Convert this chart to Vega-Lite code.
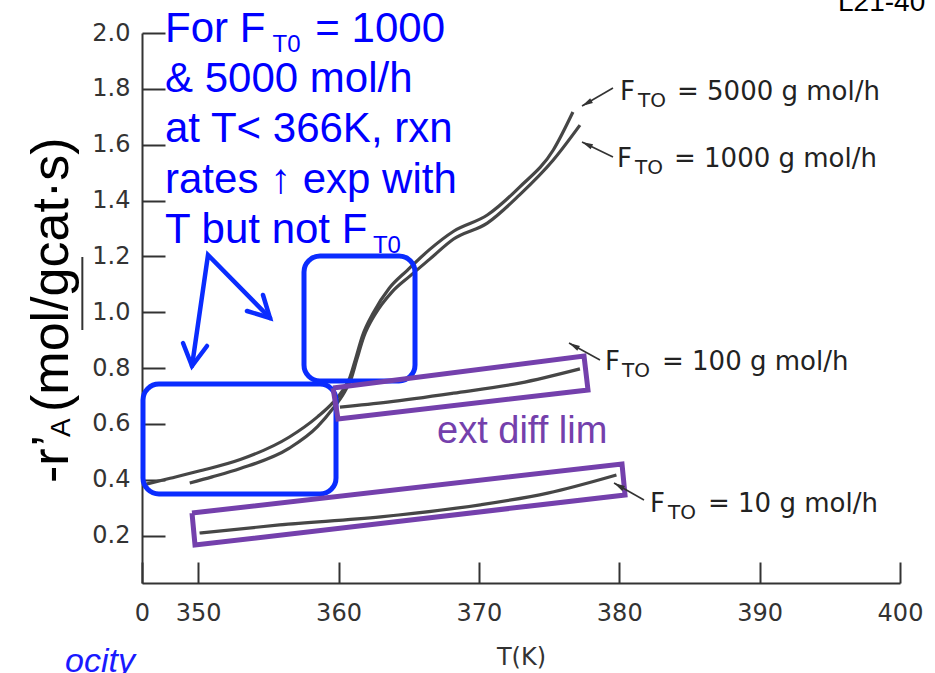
{
  "$schema": "https://vega.github.io/schema/vega-lite/v6.json",
  "width": 758,
  "height": 550,
  "autosize": {"type": "none"},
  "padding": {"left": 142, "top": 33, "right": 35, "bottom": 90},
  "background": "white",
  "config": {"view": {"stroke": null}, "font": "DejaVu Sans"},
  "datasets": {
    "curves": [
      {"s": "5000", "t": 346.2, "r": 0.383}, {"s": "5000", "t": 348.0, "r": 0.405}, {"s": "5000", "t": 350.0, "r": 0.43},
      {"s": "5000", "t": 353.0, "r": 0.472}, {"s": "5000", "t": 356.5, "r": 0.553}, {"s": "5000", "t": 358.5, "r": 0.625},
      {"s": "5000", "t": 359.6, "r": 0.676}, {"s": "5000", "t": 360.3, "r": 0.72}, {"s": "5000", "t": 360.8, "r": 0.765},
      {"s": "5000", "t": 361.2, "r": 0.83}, {"s": "5000", "t": 361.7, "r": 0.915}, {"s": "5000", "t": 362.5, "r": 1.0},
      {"s": "5000", "t": 363.6, "r": 1.085}, {"s": "5000", "t": 364.9, "r": 1.15}, {"s": "5000", "t": 366.5, "r": 1.225},
      {"s": "5000", "t": 368.2, "r": 1.29}, {"s": "5000", "t": 370.6, "r": 1.348}, {"s": "5000", "t": 372.9, "r": 1.448},
      {"s": "5000", "t": 375.3, "r": 1.581}, {"s": "5000", "t": 376.7, "r": 1.717},
      {"s": "1000", "t": 349.4, "r": 0.388}, {"s": "1000", "t": 351.0, "r": 0.41}, {"s": "1000", "t": 353.0, "r": 0.44},
      {"s": "1000", "t": 356.5, "r": 0.513}, {"s": "1000", "t": 358.5, "r": 0.59}, {"s": "1000", "t": 359.6, "r": 0.655},
      {"s": "1000", "t": 360.4, "r": 0.712}, {"s": "1000", "t": 360.9, "r": 0.762}, {"s": "1000", "t": 361.3, "r": 0.83},
      {"s": "1000", "t": 361.8, "r": 0.912}, {"s": "1000", "t": 362.6, "r": 0.992}, {"s": "1000", "t": 363.8, "r": 1.072},
      {"s": "1000", "t": 365.1, "r": 1.13}, {"s": "1000", "t": 366.5, "r": 1.19}, {"s": "1000", "t": 368.2, "r": 1.262},
      {"s": "1000", "t": 370.6, "r": 1.319}, {"s": "1000", "t": 372.9, "r": 1.42}, {"s": "1000", "t": 375.3, "r": 1.545},
      {"s": "1000", "t": 377.2, "r": 1.67},
      {"s": "100", "t": 360.1, "r": 0.66}, {"s": "100", "t": 363.5, "r": 0.678}, {"s": "100", "t": 368.2, "r": 0.71},
      {"s": "100", "t": 372.9, "r": 0.746}, {"s": "100", "t": 377.2, "r": 0.797},
      {"s": "10", "t": 350.1, "r": 0.209}, {"s": "10", "t": 355.8, "r": 0.238}, {"s": "10", "t": 363.0, "r": 0.267},
      {"s": "10", "t": 370.1, "r": 0.31}, {"s": "10", "t": 374.9, "r": 0.352}, {"s": "10", "t": 379.8, "r": 0.417}
    ],
    "blueBoxes": [
      {"t": 346.071, "r": 0.7428, "t2": 359.821, "r2": 0.3488},
      {"t": 357.541, "r": 1.2013, "t2": 365.449, "r2": 0.7535}
    ],
    "purpleBoxes": [
      {"g": "100", "i": 0, "t": 359.607, "r": 0.7285}, {"g": "100", "i": 1, "t": 377.489, "r": 0.8431},
      {"g": "100", "i": 2, "t": 377.773, "r": 0.7213}, {"g": "100", "i": 3, "t": 359.963, "r": 0.6174},
      {"g": "100", "i": 4, "t": 359.607, "r": 0.7285},
      {"g": "10", "i": 0, "t": 349.562, "r": 0.2808}, {"g": "10", "i": 1, "t": 380.196, "r": 0.4563},
      {"g": "10", "i": 2, "t": 380.41, "r": 0.3452}, {"g": "10", "i": 3, "t": 349.776, "r": 0.1661},
      {"g": "10", "i": 4, "t": 349.562, "r": 0.2808}
    ],
    "blueArrows": [
      {"g": "shaft", "i": 0, "t": 349.562, "r": 0.8073}, {"g": "shaft", "i": 1, "t": 350.702, "r": 1.2049},
      {"g": "shaft", "i": 2, "t": 355.119, "r": 0.9792},
      {"g": "headL", "i": 0, "t": 348.921, "r": 0.8897}, {"g": "headL", "i": 1, "t": 349.562, "r": 0.8073},
      {"g": "headL", "i": 2, "t": 350.631, "r": 0.8789},
      {"g": "headR", "i": 0, "t": 353.48, "r": 1.0043}, {"g": "headR", "i": 1, "t": 355.119, "r": 0.9792},
      {"g": "headR", "i": 2, "t": 354.62, "r": 1.0616}
    ],
    "pointers": [
      {"k": "5000", "t": 379.554, "r": 1.803, "t2": 377.346, "r2": 1.7385},
      {"k": "1000", "t": 379.554, "r": 1.5559, "t2": 377.346, "r2": 1.6096},
      {"k": "100", "t": 378.628, "r": 0.8288, "t2": 376.419, "r2": 0.8897},
      {"k": "10", "t": 381.763, "r": 0.3273, "t2": 379.626, "r2": 0.3882}
    ],
    "blueMain": [
      {"t": 347.639, "r": 1.9678, "label": "For F"},
      {"t": 358.35, "r": 1.9678, "label": "= 1000"},
      {"t": 347.639, "r": 1.7887, "label": "& 5000 mol/h"},
      {"t": 347.639, "r": 1.6096, "label": "at T< 366K, rxn"},
      {"t": 347.639, "r": 1.4269, "label": "rates ↑ exp with"},
      {"t": 347.639, "r": 1.2478, "label": "T but not F"}
    ],
    "blueSub": [
      {"t": 355.3, "r": 1.9319, "label": "T0"},
      {"t": 362.45, "r": 1.212, "label": "T0"}
    ],
    "blackMain": [
      {"t": 380.053, "r": 1.76, "label": "F"}, {"t": 384.114, "r": 1.76, "label": "= 5000 g mol/h"},
      {"t": 379.839, "r": 1.52, "label": "F"}, {"t": 383.9, "r": 1.52, "label": "= 1000 g mol/h"},
      {"t": 378.984, "r": 0.793, "label": "F"}, {"t": 383.045, "r": 0.793, "label": "= 100 g mol/h"},
      {"t": 382.19, "r": 0.2843, "label": "F"}, {"t": 386.322, "r": 0.2843, "label": "= 10 g mol/h"}
    ],
    "blackSub": [
      {"t": 381.336, "r": 1.735, "label": "TO"}, {"t": 381.122, "r": 1.495, "label": "TO"},
      {"t": 380.195, "r": 0.7679, "label": "TO"}, {"t": 383.473, "r": 0.2593, "label": "TO"}
    ],
    "yTitleMain": [
      {"t": 340.728, "r": 0.3882, "label": "-r’"},
      {"t": 340.728, "r": 0.6425, "label": "(mol/gcat·s)"}
    ],
    "yTitleSub": [{"t": 340.871, "r": 0.553, "label": "A"}]
  },
  "encoding": {
    "x": {
      "field": "t", "type": "quantitative",
      "scale": {"domain": [346, 400], "nice": false, "zero": false},
      "axis": {
        "values": [346, 350, 360, 370, 380, 390, 400],
        "labelExpr": "datum.value == 346 ? '0' : datum.label",
        "ticks": true, "tickSize": -21, "tickWidth": 2, "tickColor": "#333333",
        "grid": false, "labelFlush": false, "labelOverlap": false,
        "domainColor": "#333333", "domainWidth": 2,
        "labelFont": "DejaVu Sans", "labelFontSize": 24, "labelColor": "#333333", "labelPadding": 39,
        "title": "T(K)", "titleFont": "DejaVu Sans", "titleFontSize": 24, "titleFontWeight": "normal",
        "titleColor": "#333333", "titlePadding": 20
      }
    },
    "y": {
      "field": "r", "type": "quantitative",
      "scale": {"domain": [0.03, 2.0], "nice": false, "zero": false},
      "axis": {
        "values": [0.2, 0.4, 0.6, 0.8, 1.0, 1.2, 1.4, 1.6, 1.8, 2.0],
        "format": ".1f",
        "ticks": true, "tickSize": -23, "tickWidth": 2, "tickColor": "#333333",
        "grid": false, "labelFlush": false, "labelOverlap": false,
        "domainColor": "#333333", "domainWidth": 2,
        "labelFont": "DejaVu Sans", "labelFontSize": 24, "labelColor": "#333333", "labelPadding": 35,
        "title": null
      }
    }
  },
  "layer": [
    {
      "data": {"name": "curves"},
      "mark": {"type": "line", "color": "#464646", "strokeWidth": 3.2, "interpolate": "monotone"},
      "encoding": {"detail": {"field": "s"}}
    },
    {
      "data": {"name": "blueBoxes"},
      "mark": {"type": "rect", "fill": null, "fillOpacity": 0, "stroke": "#0a2cff", "strokeWidth": 5, "cornerRadius": 16},
      "encoding": {"x2": {"field": "t2"}, "y2": {"field": "r2"}}
    },
    {
      "data": {"name": "purpleBoxes"},
      "mark": {"type": "line", "color": "#7440ac", "strokeWidth": 5, "strokeJoin": "miter"},
      "encoding": {"detail": {"field": "g"}, "order": {"field": "i"}}
    },
    {
      "data": {"name": "blueArrows"},
      "mark": {"type": "line", "color": "#0a2cff", "strokeWidth": 4.5, "strokeJoin": "miter", "strokeCap": "round"},
      "encoding": {"detail": {"field": "g"}, "order": {"field": "i"}}
    },
    {
      "data": {"name": "pointers"},
      "mark": {"type": "rule", "color": "#333333", "strokeWidth": 1.6},
      "encoding": {"x2": {"field": "t2"}, "y2": {"field": "r2"}}
    },
    {
      "data": {"name": "pointers"},
      "transform": [{"filter": "datum.k == '5000'"}],
      "mark": {"type": "point", "shape": "M0,0L0.55,2.2L-0.55,2.2Z", "size": 100, "filled": true, "color": "#333333", "opacity": 1, "angle": 240},
      "encoding": {"x": {"field": "t2"}, "y": {"field": "r2"}}
    },
    {
      "data": {"name": "pointers"},
      "transform": [{"filter": "datum.k == '1000'"}],
      "mark": {"type": "point", "shape": "M0,0L0.55,2.2L-0.55,2.2Z", "size": 100, "filled": true, "color": "#333333", "opacity": 1, "angle": 296},
      "encoding": {"x": {"field": "t2"}, "y": {"field": "r2"}}
    },
    {
      "data": {"name": "pointers"},
      "transform": [{"filter": "datum.k == '100'"}],
      "mark": {"type": "point", "shape": "M0,0L0.55,2.2L-0.55,2.2Z", "size": 100, "filled": true, "color": "#333333", "opacity": 1, "angle": 299},
      "encoding": {"x": {"field": "t2"}, "y": {"field": "r2"}}
    },
    {
      "data": {"name": "pointers"},
      "transform": [{"filter": "datum.k == '10'"}],
      "mark": {"type": "point", "shape": "M0,0L0.55,2.2L-0.55,2.2Z", "size": 100, "filled": true, "color": "#333333", "opacity": 1, "angle": 300},
      "encoding": {"x": {"field": "t2"}, "y": {"field": "r2"}}
    },
    {
      "data": {"name": "blueMain"},
      "mark": {"type": "text", "font": "Liberation Sans", "fontSize": 42, "color": "#0000ff", "align": "left", "baseline": "alphabetic"},
      "encoding": {"text": {"field": "label"}}
    },
    {
      "data": {"name": "blueSub"},
      "mark": {"type": "text", "font": "Liberation Sans", "fontSize": 24, "color": "#0000ff", "align": "left", "baseline": "alphabetic"},
      "encoding": {"text": {"field": "label"}}
    },
    {
      "data": {"values": [{"t": 367.016, "r": 0.5315, "label": "ext diff lim"}]},
      "mark": {"type": "text", "font": "Liberation Sans", "fontSize": 38, "color": "#7440ac", "align": "left", "baseline": "alphabetic"},
      "encoding": {"text": {"field": "label"}}
    },
    {
      "data": {"name": "blackMain"},
      "mark": {"type": "text", "font": "DejaVu Sans", "fontSize": 26, "color": "#222222", "align": "left", "baseline": "alphabetic"},
      "encoding": {"text": {"field": "label"}}
    },
    {
      "data": {"name": "blackSub"},
      "mark": {"type": "text", "font": "DejaVu Sans", "fontSize": 20, "color": "#222222", "align": "left", "baseline": "alphabetic"},
      "encoding": {"text": {"field": "label"}}
    },
    {
      "data": {"name": "yTitleMain"},
      "mark": {"type": "text", "font": "Liberation Sans", "fontSize": 52, "color": "#000000", "align": "left", "baseline": "alphabetic", "angle": 270},
      "encoding": {"text": {"field": "label"}}
    },
    {
      "data": {"name": "yTitleSub"},
      "mark": {"type": "text", "font": "Liberation Sans", "fontSize": 28, "color": "#000000", "align": "left", "baseline": "alphabetic", "angle": 270},
      "encoding": {"text": {"field": "label"}}
    },
    {
      "data": {"values": [{"t": 341.75, "r": 0.9362, "r2": 1.1977}]},
      "mark": {"type": "rule", "color": "#333333", "strokeWidth": 2},
      "encoding": {"y2": {"field": "r2"}}
    },
    {
      "data": {"values": [{"t": 395.584, "r": 2.0788, "label": "L21-40"}]},
      "mark": {"type": "text", "font": "Liberation Sans", "fontSize": 28, "color": "#000000", "align": "left", "baseline": "alphabetic"},
      "encoding": {"text": {"field": "label"}}
    },
    {
      "data": {"values": [{"t": 340.515, "r": -0.2888, "label": "ocity"}]},
      "mark": {"type": "text", "font": "Liberation Sans", "fontSize": 34, "fontStyle": "italic", "color": "#1a1aff", "align": "left", "baseline": "alphabetic"},
      "encoding": {"text": {"field": "label"}}
    }
  ]
}
